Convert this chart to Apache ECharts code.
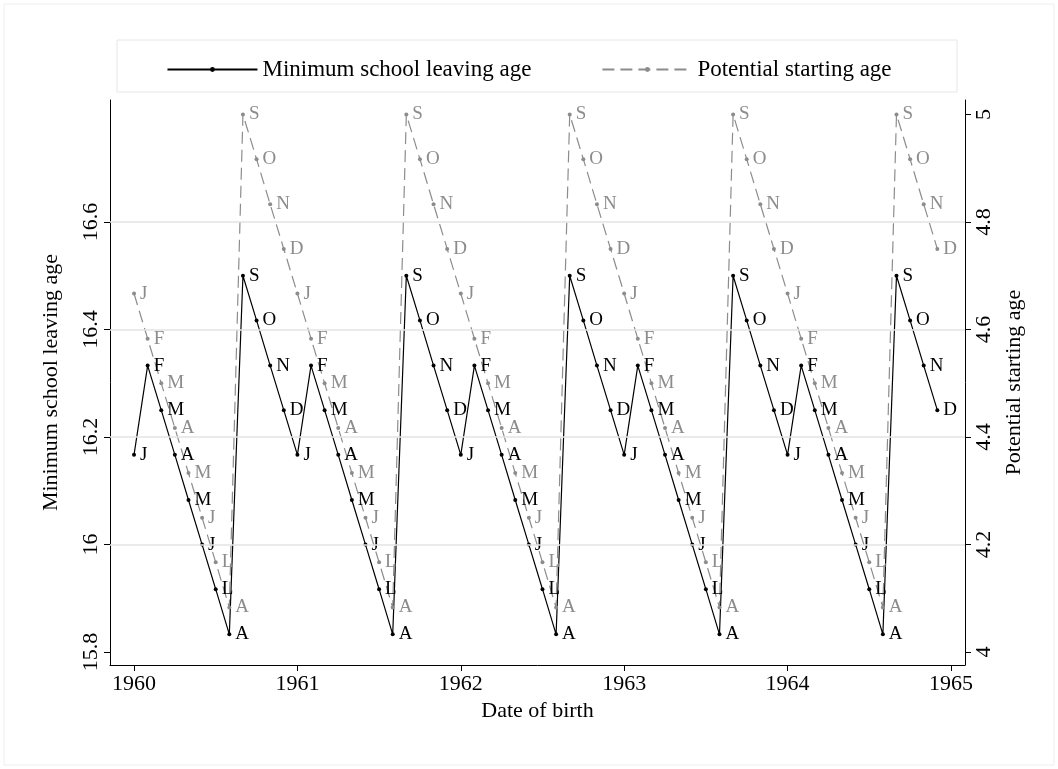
<!DOCTYPE html><html><head><meta charset="utf-8">
<script src="https://cdn.jsdelivr.net/npm/echarts@6/dist/echarts.min.js"></script>
<style>body{margin:0;background:#fff}#c{width:1058px;height:769px}</style></head><body><div id="c"></div>
<script>
const years=[1960,1961,1962,1963,1964];
const monthLabels=['J','F','M','A','M','J','L','A','S','O','N','D'];
const schoolAge=[16.167,16.333,16.25,16.167,16.083,16.0,15.917,15.833,16.5,16.417,16.333,16.25];
const startAge=[4.667,4.583,4.5,4.417,4.333,4.25,4.167,4.083,5.0,4.917,4.833,4.75];
const xTicks=[1960,1961,1962,1963,1964,1965];
const leftTicks=[15.8,16,16.2,16.4,16.6];
const rightTicks=[4,4.2,4.4,4.6,4.8,5];
const s1=[],s2=[];
years.forEach(y=>{for(let m=0;m<12;m++){const x=y+m/12;s1.push([x,schoolAge[m],monthLabels[m]]);s2.push([x,startAge[m],monthLabels[m]]);}});
const F='Liberation Serif';
const ch=echarts.init(document.getElementById('c'));
function yAx(min,max,ticks,extra){return Object.assign({type:'value',min:min,max:max,
 axisLine:{show:true,lineStyle:{color:'#000'}},
 axisTick:{show:true,length:6,customValues:ticks,lineStyle:{color:'#000'}},
 axisLabel:{color:'#000',fontFamily:F,fontSize:22,rotate:90,customValues:ticks,formatter:v=>String(Math.round(v*10)/10)},
 splitLine:{show:false},nameLocation:'middle',nameTextStyle:{color:'#000',fontFamily:F,fontSize:22}},extra);}
ch.setOption({
 backgroundColor:'#fff',animation:false,
 graphic:[{type:'rect',shape:{x:117,y:40,width:840,height:52},style:{fill:'none',stroke:'#e6e6e6'}},
  {type:'rect',shape:{x:4,y:4,width:1050,height:761},style:{fill:'none',stroke:'#eee'}}],
 legend:{top:53,left:'center',itemGap:70,itemWidth:90,itemHeight:6,textStyle:{fontFamily:F,fontSize:23,color:'#000'},data:['Minimum school leaving age','Potential starting age']},
 grid:{left:110,right:93,top:100,bottom:104},
 xAxis:{type:'value',min:1959.853,max:1965.086,
  axisLine:{lineStyle:{color:'#000'}},axisTick:{length:6,customValues:xTicks,lineStyle:{color:'#000'}},splitLine:{show:false},
  axisLabel:{color:'#000',fontFamily:F,fontSize:22,customValues:xTicks,formatter:v=>String(Math.round(v))},
  name:'Date of birth',nameLocation:'middle',nameGap:32,nameTextStyle:{color:'#000',fontFamily:F,fontSize:22}},
 yAxis:[yAx(15.776,16.827,leftTicks,{name:'Minimum school leaving age',nameGap:48}),
  yAx(3.976,5.027,rightTicks,{position:'right',name:'Potential starting age',nameGap:38})],
 series:[
  {name:'Minimum school leaving age',type:'line',data:s1,yAxisIndex:0,symbol:'circle',symbolSize:4,
   lineStyle:{color:'#000',width:1.2},itemStyle:{color:'#000'},z:3,
   label:{show:true,position:'right',distance:4,fontFamily:F,fontSize:19,color:'#000',formatter:p=>p.data[2]},
   markLine:{silent:true,symbol:'none',label:{show:false},lineStyle:{color:'#e3e3e3',type:'solid',width:1.5},
    data:[16,16.2,16.4,16.6].map(v=>({yAxis:v}))}},
  {name:'Potential starting age',type:'line',data:s2,yAxisIndex:1,symbol:'circle',symbolSize:4,
   lineStyle:{color:'#8c8c8c',width:1.2,type:[12,6]},itemStyle:{color:'#8c8c8c'},
   label:{show:true,position:'right',distance:4,fontFamily:F,fontSize:19,color:'#8c8c8c',formatter:p=>p.data[2]}}
 ]});
</script></body></html>
